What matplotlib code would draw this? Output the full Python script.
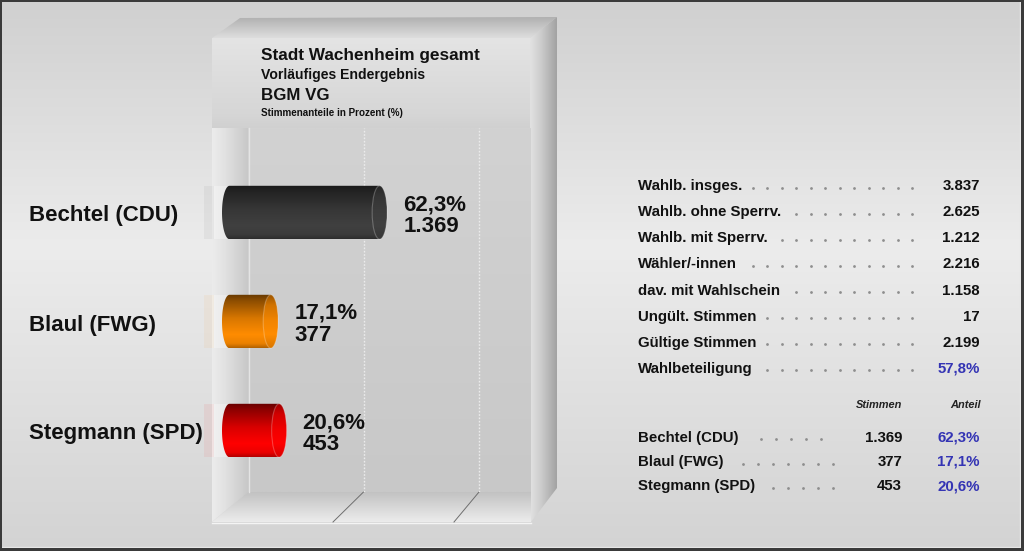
import numpy as np
import matplotlib
matplotlib.use("Agg")
import matplotlib.pyplot as plt
from matplotlib.patches import Polygon, Rectangle, Ellipse, PathPatch
from matplotlib.path import Path
from matplotlib import transforms as mtrans
from matplotlib.colors import to_rgb

plt.rcParams['font.family'] = ['Liberation Sans', 'DejaVu Sans']

# ---- data -------------------------------------------------------------
candidates = ["Bechtel (CDU)", "Blaul (FWG)", "Stegmann (SPD)"]
shares = [62.3, 17.1, 20.6]
votes = [1369, 377, 453]
bar_colors = ["#404040", "#ff8c00", "#ff0000"]

summary_labels = ["Wahlb. insges.", "Wahlb. ohne Sperrv.", "Wahlb. mit Sperrv.",
                  "Wähler/-innen", "dav. mit Wahlschein", "Ungült. Stimmen",
                  "Gültige Stimmen", "Wahlbeteiligung"]
summary_values = ["3.837", "2.625", "1.212", "2.216", "1.158", "17", "2.199", "57,8%"]

title_lines = ["Stadt Wachenheim gesamt", "Vorläufiges Endergebnis", "BGM VG",
               "Stimmenanteile in Prozent (%)"]
grid_values = [50, 100]

# ---- helpers ----------------------------------------------------------
W, H = 1024, 551
TXT = "#111111"
BLUE = "#3434b4"


def de_num(n):
    return f"{n:,}".replace(",", ".")


def de_pct(p):
    return f"{p:.1f}".replace(".", ",") + "%"


def ramp(stops, n=256):
    t = np.linspace(0, 1, n)
    pos = [s[0] for s in stops]
    cols = np.array([to_rgb(s[1]) for s in stops])
    return np.stack([np.interp(t, pos, cols[:, k]) for k in range(3)], axis=-1)


def shade(ax, extent, stops, clip=None, horizontal=False, zorder=1):
    arr = ramp(stops)
    arr = arr[None, :, :] if horizontal else arr[:, None, :]
    im = ax.imshow(arr, extent=extent, origin="upper", aspect="auto",
                   interpolation="bilinear", zorder=zorder)
    if clip is not None:
        clip.set_transform(ax.transData)
        im.set_clip_path(clip)
    return im


fig = plt.figure(figsize=(W / 100, H / 100), dpi=100)
bg = fig.add_axes([0, 0, 1, 1])
bg.axis("off")
bg.set_xlim(0, W)
bg.set_ylim(H, 0)
bg.set_autoscale_on(False)

# page background
shade(bg, (0, W, H, 0), [(0, "#d0d0d0"), (0.45, "#ececec"), (1, "#d3d3d3")], zorder=0)

# ---- 3D frame around the chart ----------------------------------------
top_face = Polygon([(212, 38), (240, 18), (557, 17), (530, 38)], closed=True)
shade(bg, (212, 557, 38, 17), [(0, "#b0b0b0"), (1, "#dedede")], clip=top_face)

right_face = Polygon([(530, 38), (557, 17), (557, 488), (531, 522)], closed=True)
shade(bg, (530, 557, 522, 17), [(0, "#e2e2e2"), (0.4, "#cdcdcd"), (1, "#a2a2a2")],
      clip=right_face, horizontal=True)

title_panel = Polygon([(212, 38), (530, 38), (530, 128), (212, 128)], closed=True)
shade(bg, (212, 530, 128, 38), [(0, "#e4e4e4"), (0.85, "#d6d6d6"), (1, "#d0d0d0")],
      clip=title_panel)

left_wall = Polygon([(212, 128), (248, 128), (248, 492), (212, 522)], closed=True)
shade(bg, (212, 248, 522, 128), [(0, "#ececec"), (0.35, "#e2e2e2"), (1, "#c8c8c8")],
      clip=left_wall, horizontal=True)

back_wall = Polygon([(248, 128), (531, 128), (531, 492), (248, 492)], closed=True)
shade(bg, (248, 531, 492, 128), [(0, "#d2d2d2"), (1, "#c8c8c8")], clip=back_wall)

floor = Polygon([(212, 522), (248, 492), (531, 492), (531, 522)], closed=True)
shade(bg, (212, 531, 522, 492), [(0, "#c2c2c2"), (1, "#ececec")], clip=floor)

bg.plot([249, 249], [128, 492], color="#e4e4e4", lw=1, zorder=2)
bg.plot([212, 531], [522.5, 522.5], color="#f4f4f4", lw=1, zorder=2)

# page border
for x, y, w, h in [(0, 0, W, 1.5), (0, 0, 2, H), (0, H - 3, W, 3), (W - 3, 0, 3, H)]:
    bg.add_patch(Rectangle((x, y), w, h, color="#3a3a3a", lw=0, zorder=5))
bg.plot([W - 4.5, W - 4.5], [2, H - 3], color="#e6e6e6", lw=1, zorder=4)
bg.plot([2, W - 3], [H - 4.5, H - 4.5], color="#e6e6e6", lw=1, zorder=4)

# ---- chart titles -----------------------------------------------------
title_specs = [(60, 12.4), (78.5, 10.1), (100, 12.2), (116.5, 7.1)]
for line, (yb, fs) in zip(title_lines, title_specs):
    bg.text(261, yb, line, fontsize=fs, fontweight="bold", color=TXT, va="baseline",
            ha="left", zorder=6)

# ---- gridlines on the back wall ---------------------------------------
BACK_X0, BACK_SCALE = 248, 2.31
back_ax = fig.add_axes([BACK_X0 / W, 1 - 492 / H, (531 - BACK_X0) / W, (492 - 128) / H])
back_ax.set_xlim(0, (531 - BACK_X0) / BACK_SCALE)
back_ax.set_ylim(0, 1)
back_ax.axis("off")
back_ax.patch.set_alpha(0)
FRONT_X0, FRONT_SCALE = 212, 2.42
for g in grid_values:
    back_ax.axvline(g, color="#ececec", lw=1, ls=(0, (1.2, 1.2)))
    xb = back_ax.transData.transform((g, 0))[0]
    xf = FRONT_X0 + g * FRONT_SCALE
    bg.plot([xb, xf], [492, 522], color="#6e6e6e", lw=0.7, zorder=3)

# ---- cylinder bars ----------------------------------------------------
BAR_X0, BAR_SCALE = 229.5, 2.41
ROW_PX, ROW0_PX = 109, 212.5
L_PX, R_PX, T_PX, B_PX = 200, 531, 128, 492
bar_ax = fig.add_axes([L_PX / W, 1 - B_PX / H, (R_PX - L_PX) / W, (B_PX - T_PX) / H])
bar_ax.axis("off")
bar_ax.patch.set_alpha(0)

h = 0.49
cap_w = 15 / BAR_SCALE
xlim = ((L_PX - BAR_X0) / BAR_SCALE, (R_PX - BAR_X0) / BAR_SCALE)
ylim = ((B_PX - ROW0_PX) / ROW_PX, (T_PX - ROW0_PX) / ROW_PX)
bar_ax.set_xlim(*xlim)
bar_ax.set_ylim(*ylim)
bar_ax.set_autoscale_on(False)

row_tf = mtrans.blended_transform_factory(bg.transData, bar_ax.transData)
t = np.linspace(0, 1, 128)
body_prof = np.interp(t, [0, 0.12, 0.45, 0.75, 0.92, 1], [0.4, 0.55, 0.85, 1.0, 0.92, 0.7])
cap_prof = np.interp(t, [0, 0.2, 0.5, 0.75, 1], [0.6, 0.82, 0.95, 1.0, 0.85])

for i, (name, v, n, c) in enumerate(zip(candidates, shares, votes, bar_colors)):
    base = np.array(to_rgb(c))
    # light strip on the side wall behind each bar
    bar_ax.add_patch(Rectangle((212, i - h / 2), 36, h, transform=row_tf,
                               color="white", alpha=0.3, lw=0, zorder=1))
    bar_ax.add_patch(Rectangle((204, i - h / 2), 10, h, transform=row_tf,
                               color=c, alpha=0.06, lw=0, zorder=1))

    theta = np.linspace(np.pi / 2, 3 * np.pi / 2, 48)
    ex = (cap_w / 2) * np.cos(theta)
    ey = i + (h / 2) * np.sin(theta)
    verts = [(0, i - h / 2), (v, i - h / 2), (v, i + h / 2)] + list(zip(ex, ey))
    verts.append(verts[0])
    body = PathPatch(Path(np.array(verts), closed=True), transform=bar_ax.transData)
    arr = np.clip(base[None, :] * body_prof[:, None], 0, 1)[:, None, :]
    im = bar_ax.imshow(arr, extent=(-cap_w / 2, v, i + h / 2, i - h / 2), origin="upper",
                       aspect="auto", interpolation="bilinear", zorder=2)
    im.set_clip_path(body)

    cap = Ellipse((v, i), cap_w, h, transform=bar_ax.transData)
    carr = np.clip(base[None, :] * cap_prof[:, None], 0, 1)[:, None, :]
    im2 = bar_ax.imshow(carr, extent=(v - cap_w / 2, v + cap_w / 2, i + h / 2, i - h / 2),
                        origin="upper", aspect="auto", interpolation="bilinear", zorder=3)
    im2.set_clip_path(cap)
    bar_ax.add_patch(Ellipse((v, i), cap_w, h, fill=False, ec="white", alpha=0.25,
                             lw=0.8, zorder=4))

    # value labels next to the cap
    off1 = mtrans.ScaledTranslation(0.235, 0.025, fig.dpi_scale_trans)
    off2 = mtrans.ScaledTranslation(0.235, -0.192, fig.dpi_scale_trans)
    bar_ax.text(v, i, de_pct(v), transform=bar_ax.transData + off1, fontsize=16,
                fontweight="bold", color=TXT, va="baseline", ha="left", zorder=5)
    bar_ax.text(v, i, de_num(n), transform=bar_ax.transData + off2, fontsize=16,
                fontweight="bold", color=TXT, va="baseline", ha="left", zorder=5)

    # candidate name on the left
    name_tf = row_tf + mtrans.ScaledTranslation(0, -0.09, fig.dpi_scale_trans)
    bar_ax.text(29, i, name, transform=name_tf, fontsize=16, fontweight="bold",
                color=TXT, va="baseline", ha="left", zorder=5)

bar_ax.set_xlim(*xlim)
bar_ax.set_ylim(*ylim)

# ---- result tables ----------------------------------------------------
renderer = fig.canvas.get_renderer()


def leader_dots(label_artist, y, end, step):
    x_end_label = label_artist.get_window_extent(renderer).x1
    xs = []
    x = end
    while x > x_end_label + 8:
        xs.append(x)
        x -= step
    bg.scatter(xs, [y - 2.5] * len(xs), s=4, color="#8e8e8e", linewidths=0, zorder=6)


ROW1_Y, ROW_STEP = 190, 26.14
for k, (lab, val) in enumerate(zip(summary_labels, summary_values)):
    y = ROW1_Y + k * ROW_STEP
    ta = bg.text(638, y, lab, fontsize=10.8, fontweight="bold", color=TXT,
                 va="baseline", ha="left", zorder=6)
    bg.text(980, y, val, fontsize=10.8, fontweight="bold",
            color=BLUE if val.endswith("%") else TXT, va="baseline", ha="right", zorder=6)
    leader_dots(ta, y, 912, 14.5)

bg.text(902, 408, "Stimmen", fontsize=7.9, fontweight="bold", fontstyle="italic",
        color="#222222", va="baseline", ha="right", zorder=6)
bg.text(981, 408, "Anteil", fontsize=7.9, fontweight="bold", fontstyle="italic",
        color="#222222", va="baseline", ha="right", zorder=6)

dot_ends = [821, 833, 833]
for k, (name, n, p) in enumerate(zip(candidates, votes, shares)):
    y = 441.7 + k * 24.3
    ta = bg.text(638, y, name, fontsize=10.8, fontweight="bold", color=TXT,
                 va="baseline", ha="left", zorder=6)
    bg.text(902, y, de_num(n), fontsize=10.8, fontweight="bold", color=TXT,
            va="baseline", ha="right", zorder=6)
    bg.text(980, y, de_pct(p), fontsize=10.8, fontweight="bold", color=BLUE,
            va="baseline", ha="right", zorder=6)
    leader_dots(ta, y, dot_ends[k], 15)

bg.set_xlim(0, W)
bg.set_ylim(H, 0)

fig.savefig("out.png", dpi=100)
